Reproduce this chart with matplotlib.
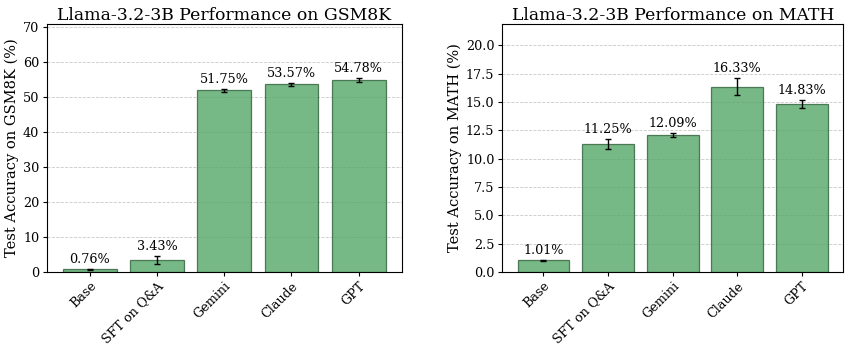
import numpy as np
import matplotlib
matplotlib.use('Agg')
import matplotlib.pyplot as plt

methods = ['Base', 'SFT on Q&A', 'Gemini', 'Claude', 'GPT']

gsm8k_acc = [0.76, 3.43, 51.75, 53.57, 54.78]
gsm8k_err = [0.2, 1.2, 0.5, 0.4, 0.5]

math_acc = [1.01, 11.25, 12.09, 16.33, 14.83]
math_err = [0.05, 0.45, 0.2, 0.75, 0.35]

plt.rcParams['font.family'] = 'DejaVu Serif'

BAR_COLOR = '#55a868'
EDGE_COLOR = '#2f5f3a'


def plot_panel(ax, values, errors, title, ylabel, ymax, yticks):
    x = np.arange(len(methods))
    ax.bar(x, values, width=0.8, color=BAR_COLOR, alpha=0.8,
           edgecolor=EDGE_COLOR, linewidth=0.9, zorder=2)
    ax.errorbar(x, values, yerr=errors, fmt='none', ecolor='black',
                elinewidth=1.0, capsize=2.5, zorder=3)
    for xi, v, e in zip(x, values, errors):
        ax.text(xi, v + e + ymax * 0.012, f'{v:.2f}%', ha='center', va='bottom',
                fontsize=9.2)
    ax.set_xticks(x)
    ax.set_xticklabels(methods, rotation=45, ha='right', rotation_mode='anchor',
                       fontsize=9.2)
    ax.set_yticks(yticks)
    ax.tick_params(axis='y', labelsize=9.2)
    ax.tick_params(length=3, pad=2.5)
    ax.set_ylim(0, ymax)
    ax.set_title(title, fontsize=12.4, pad=3)
    ax.set_ylabel(ylabel, fontsize=10.5, labelpad=3)
    ax.yaxis.grid(True, linestyle='--', color='#bbbbbb', linewidth=0.6, alpha=0.8, zorder=0)
    ax.set_axisbelow(True)


fig = plt.figure(figsize=(8.51, 3.49), dpi=100)
ax1 = fig.add_axes([0.055, 0.221, 0.417, 0.710])
ax2 = fig.add_axes([0.590, 0.221, 0.401, 0.710])

plot_panel(ax1, gsm8k_acc, gsm8k_err, 'Llama-3.2-3B Performance on GSM8K',
           'Test Accuracy on GSM8K (%)', 70.7, np.arange(0, 71, 10))
plot_panel(ax2, math_acc, math_err, 'Llama-3.2-3B Performance on MATH',
           'Test Accuracy on MATH (%)', 21.86, np.arange(0, 20.1, 2.5))

fig.savefig('out.png', dpi=100)
